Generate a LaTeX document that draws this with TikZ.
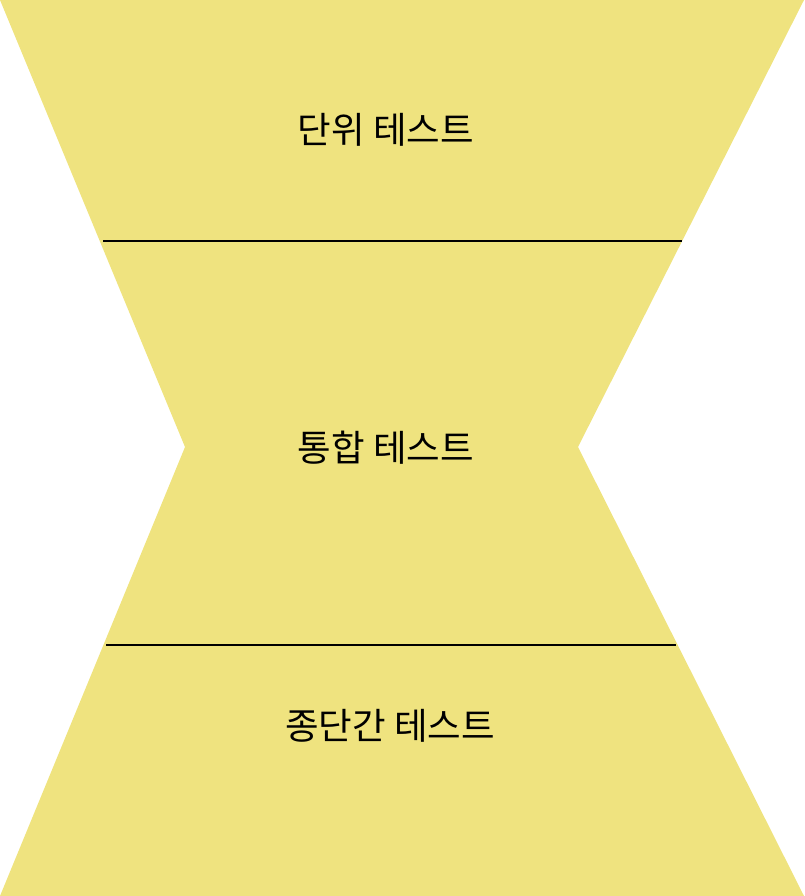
\documentclass[tikz,border=0pt]{standalone}
\usepackage{fontspec}
\newfontfamily\kofont{Noto Sans CJK KR}
\usepackage{tikz}
\usetikzlibrary{positioning}
\definecolor{glass}{RGB}{239,227,127}
\tikzstyle{stage}=[font=\kofont\fontsize{36.5}{42}\selectfont, text=black,
  inner sep=0pt]
\tikzstyle{band}=[fill=glass, draw=none]
\tikzstyle{divider}=[draw, line width=1.6pt, color=black]
\newcommand{\divider}[2]{%
  \path [divider] (#1) -- (#2);}

\begin{document}
\begin{tikzpicture}[x=1pt,y=-1pt]

  % Frame of the picture
\useasboundingbox (0,0) rectangle (804,896);

  % Corners of the hourglass
\coordinate (tl) at (0,0);
\coordinate (tr) at (804,0);
\coordinate (ml) at (185,447);
\coordinate (mr) at (578,447);
\coordinate (bl) at (0,896);
\coordinate (br) at (804,896);
\path [band] (tl) -- (tr) -- (mr) -- (br) -- (bl) -- (ml) -- cycle;

  % Borders between the levels
\coordinate (d1l) at (103,241);
\coordinate (d1r) at (682,241);
\coordinate (d2l) at (106,645);
\coordinate (d2r) at (676,645);
\divider{d1l}{d1r}
\divider{d2l}{d2r}

  % Names of the levels
\node (unit) [stage] at (386,130) {단위 테스트};
\node (integ) [stage] at (386,448) {통합 테스트};
\node (e2e) [stage] at (390,726) {종단간 테스트};
\end{tikzpicture}
\end{document}
